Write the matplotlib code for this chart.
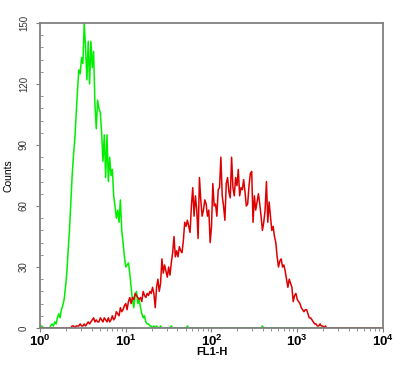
import numpy as np
import matplotlib
matplotlib.use("Agg")
import matplotlib.pyplot as plt
from matplotlib.ticker import MultipleLocator, FixedLocator, NullFormatter

plt.rcParams['font.family'] = ['Liberation Sans', 'DejaVu Sans']
plt.rcParams['mathtext.fontset'] = 'custom'
plt.rcParams['mathtext.rm'] = 'Liberation Sans'
plt.rcParams['mathtext.bf'] = 'Liberation Sans:bold'

# 256 log channels over 4 decades (64 per decade)
n_channels = 256
per_decade = 64

# green histogram, channels 0..91
green_counts = [1, 1, 0.5, 0, 0, 0, 0, 0, 1, 2, 1, 3, 2, 5, 7, 5, 9, 11, 14, 20,
                27, 38, 48, 62, 75, 85, 93, 105, 117, 127, 125, 133, 130, 150, 138, 122, 141, 120, 141, 128,
                136, 110, 98, 112, 108, 106, 96, 82, 95, 74, 95, 72, 84, 75, 78, 65, 60, 54, 58, 52,
                63, 48, 42, 35, 30, 31, 32, 27, 20, 14, 10, 16, 18, 12, 14, 10, 7, 5, 6, 3,
                2, 2, 1, 1, 0, 1, 0, 1, 0, 0, 1, 0]
green_blips = [98, 110, 166]

# red histogram, starting at channel 22
red_start = 22
red_counts = [0, 0, 1, 1, 0, 1, 1, 1, 2, 1, 1, 2, 1, 2, 3, 2, 3, 4, 5, 3,
              4, 3, 3, 5, 4, 3, 5, 4, 3, 5, 3, 4, 6, 4, 5, 8, 7, 6, 10, 8,
              9, 11, 12, 9, 13, 15, 12, 15, 14, 17, 16, 15, 14, 15, 13, 18, 16, 15, 17, 16,
              18, 17, 20, 17, 10, 20, 24, 18, 22, 34, 27, 31, 28, 25, 30, 26, 32, 37, 45, 35,
              38, 35, 40, 38, 37, 43, 52, 50, 53, 50, 47, 60, 69, 55, 65, 58, 44, 74, 63, 55,
              58, 63, 61, 55, 58, 42, 50, 71, 60, 61, 55, 68, 69, 84, 65, 60, 53, 71, 74, 67,
              64, 84, 69, 65, 74, 70, 78, 65, 69, 68, 73, 67, 60, 61, 70, 76, 77, 52, 65, 58,
              62, 66, 61, 55, 48, 52, 58, 72, 52, 62, 55, 48, 50, 45, 42, 35, 30, 33, 34, 30,
              31, 28, 24, 20, 24, 22, 20, 13, 16, 17, 14, 13, 12, 10, 9, 8, 9, 9, 7, 5,
              5, 4, 3, 2, 2, 1, 1, 2, 1, 1, 0, 1, 0, 0]

y_ticks = [0, 30, 60, 90, 120, 150]
x_ticks = [1, 10, 100, 1000, 10000]
x_tick_labels = [r'$\mathbf{10^{0}}$', r'$\mathbf{10^{1}}$', r'$\mathbf{10^{2}}$',
                 r'$\mathbf{10^{3}}$', r'$\mathbf{10^{4}}$']

ch = np.arange(n_channels)
fl = 10 ** (ch / per_decade)

green = np.zeros(n_channels)
green[:len(green_counts)] = green_counts
green[green_blips] = 1
red = np.zeros(n_channels)
red[red_start:red_start + len(red_counts)] = red_counts

fig = plt.figure(figsize=(4.06, 3.68), dpi=100)
ax = fig.add_axes([40 / 406, 1 - 328 / 368, 343 / 406, 305 / 368])

ax.plot(fl, green, color='#00ee00', lw=1.1)
ax.plot(fl, red, color='#dd0000', lw=1.1)

ax.set_xscale('log')
ax.set_xlim(1, 10000)
ax.set_ylim(0, 150)

for s in ax.spines.values():
    s.set_color('#808080')
    s.set_linewidth(1.3)

ax.xaxis.set_major_locator(FixedLocator(x_ticks))
ax.set_xticklabels(x_tick_labels, fontsize=9.5)
ax.xaxis.set_minor_locator(FixedLocator([m * 10 ** d for d in range(4) for m in range(2, 10)]))
ax.xaxis.set_minor_formatter(NullFormatter())
ax.tick_params(axis='x', which='major', direction='out', length=3, width=0.8,
               color='#808080', pad=1)
ax.tick_params(axis='x', which='minor', direction='out', length=2, width=0.6, color='#808080')

ax.set_yticks(y_ticks)
ax.set_yticklabels([str(v) for v in y_ticks], rotation=90, va='center',
                   fontsize=7, color='#333333')
ax.yaxis.set_minor_locator(MultipleLocator(6))
ax.tick_params(axis='y', which='major', direction='out', length=3, width=0.8,
               color='#808080', pad=5)
ax.tick_params(axis='y', which='minor', direction='in', length=2, width=0.6, color='#808080')

ax.set_xlabel('FL1-H', fontsize=8, fontweight='bold', labelpad=-1)
ax.set_ylabel('Counts', fontsize=7.5, labelpad=4)

fig.savefig('out.png', dpi=100)
